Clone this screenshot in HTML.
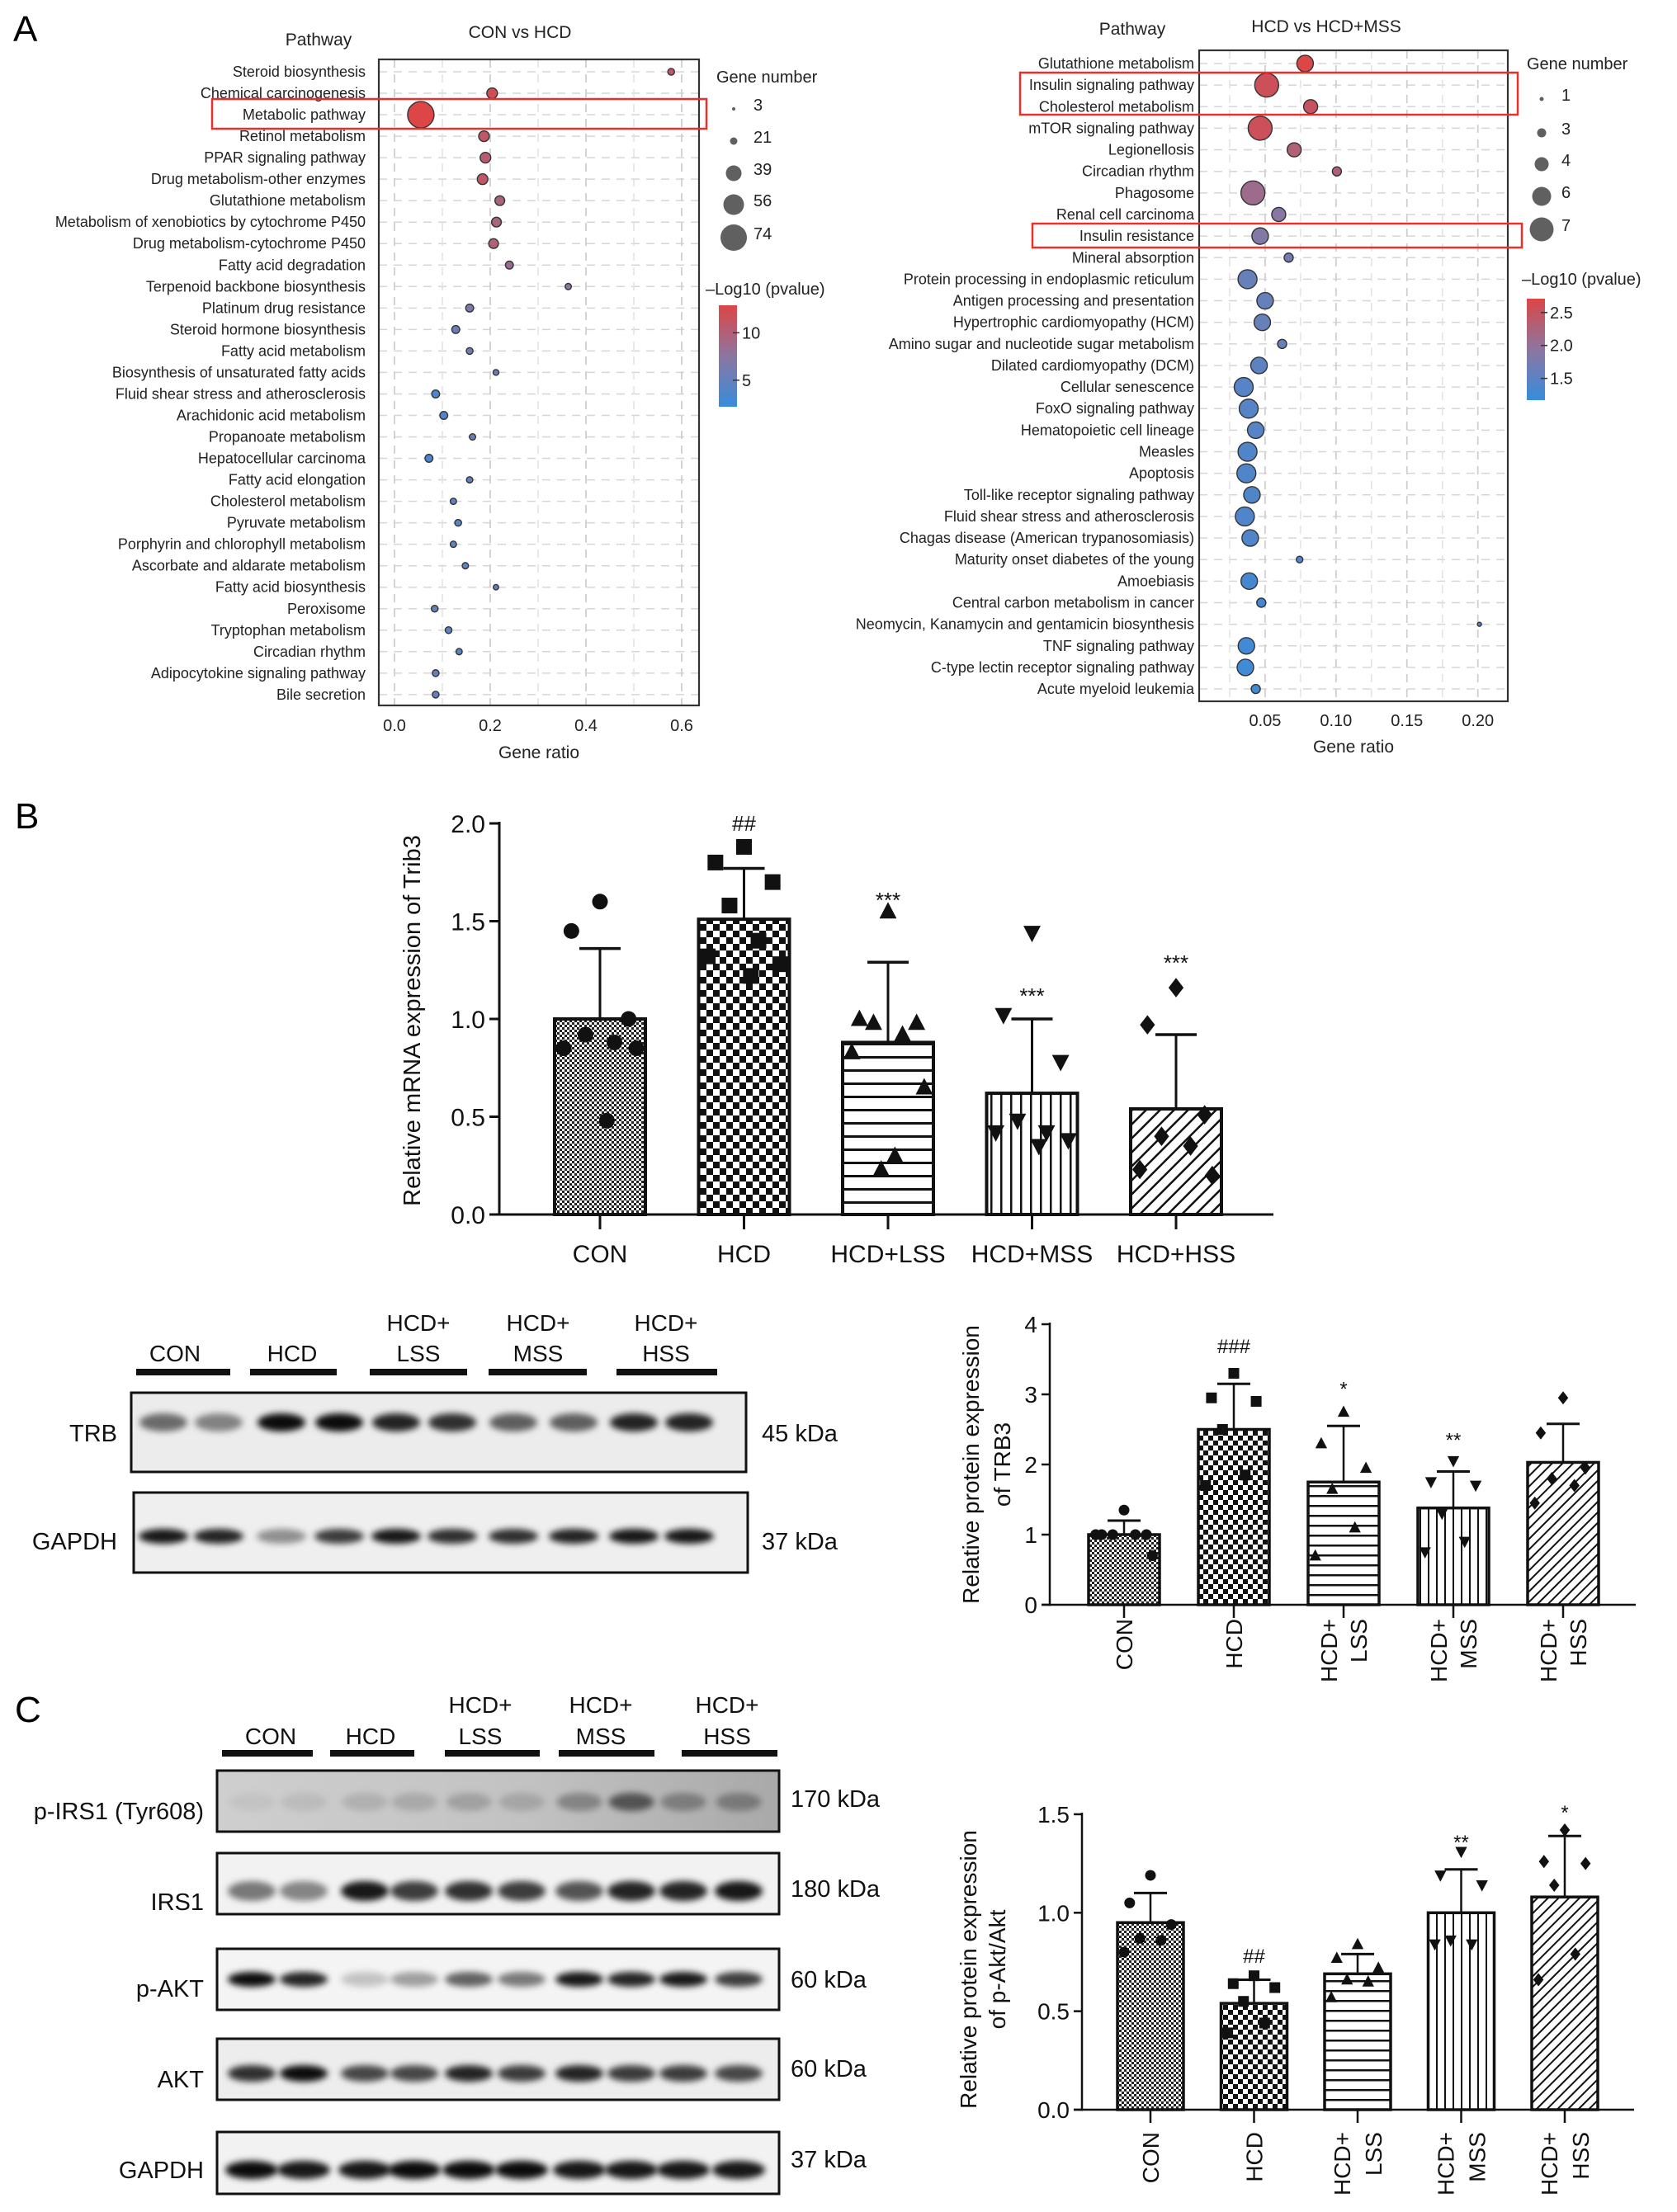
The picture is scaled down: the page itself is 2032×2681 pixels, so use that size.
<!DOCTYPE html>
<html><head><meta charset="utf-8">
<style>
html,body{margin:0;padding:0;background:#fff;}
svg{display:block;font-family:"Liberation Sans",Arial,sans-serif;}
</style></head>
<body>
<svg id="fig" width="2032" height="2681" viewBox="0 0 2032 2681" xmlns="http://www.w3.org/2000/svg">
<defs>
  <linearGradient id="cbar" x1="0" y1="1" x2="0" y2="0">
    <stop offset="0" stop-color="rgb(55,140,220)"/>
    <stop offset="0.5" stop-color="rgb(140,118,160)"/>
    <stop offset="1" stop-color="rgb(220,70,70)"/>
  </linearGradient>
  <linearGradient id="irsbg" x1="0" y1="0" x2="1" y2="0">
    <stop offset="0" stop-color="#cfcfcf"/>
    <stop offset="0.55" stop-color="#c2c2c2"/>
    <stop offset="1" stop-color="#a9a9a9"/>
  </linearGradient>
  <filter id="blur" x="-50%" y="-100%" width="200%" height="300%"><feGaussianBlur stdDeviation="4"/></filter>
  <pattern id="pCON" width="6" height="6" patternUnits="userSpaceOnUse"><rect width="6" height="6" fill="#fff"/><rect width="3" height="3" fill="#222"/><rect x="3" y="3" width="3" height="3" fill="#222"/></pattern>
  <pattern id="pHCDL" width="16" height="16" patternUnits="userSpaceOnUse"><rect width="16" height="16" fill="#fff"/><rect width="8" height="8" fill="#111"/><rect x="8" y="8" width="8" height="8" fill="#111"/></pattern>
  <pattern id="pHCDS" width="12" height="12" patternUnits="userSpaceOnUse"><rect width="12" height="12" fill="#fff"/><rect width="6" height="6" fill="#111"/><rect x="6" y="6" width="6" height="6" fill="#111"/></pattern>
  <pattern id="pLSSL" width="14" height="16" patternUnits="userSpaceOnUse"><rect width="14" height="16" fill="#fff"/><rect y="0" width="14" height="3" fill="#111"/></pattern>
  <pattern id="pLSSS" width="14" height="12" patternUnits="userSpaceOnUse"><rect width="14" height="12" fill="#fff"/><rect y="0" width="14" height="2.5" fill="#111"/></pattern>
  <pattern id="pMSSL" width="12" height="14" patternUnits="userSpaceOnUse"><rect width="12" height="14" fill="#fff"/><rect width="2.5" height="14" fill="#111"/></pattern>
  <pattern id="pMSSS" width="10" height="14" patternUnits="userSpaceOnUse"><rect width="10" height="14" fill="#fff"/><rect width="2" height="14" fill="#111"/></pattern>
  <pattern id="pHSSL" width="12" height="12" patternUnits="userSpaceOnUse" patternTransform="rotate(45)"><rect width="12" height="12" fill="#fff"/><rect width="2.5" height="12" fill="#111"/></pattern>
  <pattern id="pHSSS" width="9" height="9" patternUnits="userSpaceOnUse" patternTransform="rotate(45)"><rect width="9" height="9" fill="#fff"/><rect width="2" height="9" fill="#111"/></pattern>
</defs>
</svg>
<script>
// ---------------- DATA: Panel A left (CON vs HCD) ----------------
const leftPathways = ["Steroid biosynthesis","Chemical carcinogenesis","Metabolic pathway","Retinol metabolism","PPAR signaling pathway","Drug metabolism-other enzymes","Glutathione metabolism","Metabolism of xenobiotics by cytochrome P450","Drug metabolism-cytochrome P450","Fatty acid degradation","Terpenoid backbone biosynthesis","Platinum drug resistance","Steroid hormone biosynthesis","Fatty acid metabolism","Biosynthesis of unsaturated fatty acids","Fluid shear stress and atherosclerosis","Arachidonic acid metabolism","Propanoate metabolism","Hepatocellular carcinoma","Fatty acid elongation","Cholesterol metabolism","Pyruvate metabolism","Porphyrin and chlorophyll metabolism","Ascorbate and aldarate metabolism","Fatty acid biosynthesis","Peroxisome","Tryptophan metabolism","Circadian rhythm","Adipocytokine signaling pathway","Bile secretion"];
const leftRatio = [0.578,0.204,0.055,0.187,0.190,0.184,0.220,0.213,0.207,0.240,0.363,0.157,0.128,0.157,0.212,0.086,0.103,0.163,0.072,0.157,0.123,0.133,0.123,0.148,0.212,0.084,0.113,0.135,0.086,0.086];
const leftCount = [18,28,74,28,28,28,26,26,26,22,16,22,22,18,14,22,22,16,22,16,16,18,16,16,12,18,18,16,18,18];
const leftLogP = [11,12,13,11,10.5,11,9.5,9.5,10,8.5,7.5,6.5,5.5,5.5,5,3.5,4,5.5,3.5,5,4.5,4.5,4.5,4.5,5,5,4.5,4.5,5,5];
const leftSizeBreaks = [3,21,39,56,74];
const leftColorTicks = [10,5];
const leftXTicks = [0,0.2,0.4,0.6];
const leftXTickLabels = ["0.0","0.2","0.4","0.6"];

// ---------------- DATA: Panel A right (HCD vs HCD+MSS) ----------------
const rightPathways = ["Glutathione metabolism","Insulin signaling pathway","Cholesterol metabolism","mTOR signaling pathway","Legionellosis","Circadian rhythm","Phagosome","Renal cell carcinoma","Insulin resistance","Mineral absorption","Protein processing in endoplasmic reticulum","Antigen processing and presentation","Hypertrophic cardiomyopathy (HCM)","Amino sugar and nucleotide sugar metabolism","Dilated cardiomyopathy (DCM)","Cellular senescence","FoxO signaling pathway","Hematopoietic cell lineage","Measles","Apoptosis","Toll-like receptor signaling pathway","Fluid shear stress and atherosclerosis","Chagas disease (American trypanosomiasis)","Maturity onset diabetes of the young","Amoebiasis","Central carbon metabolism in cancer","Neomycin, Kanamycin and gentamicin biosynthesis","TNF signaling pathway","C-type lectin receptor signaling pathway","Acute myeloid leukemia"];
const rightRatio = [0.0782,0.0511,0.0821,0.0465,0.0705,0.1006,0.0414,0.0596,0.0465,0.0666,0.0376,0.0500,0.0480,0.0620,0.0457,0.0349,0.0384,0.0434,0.0376,0.0368,0.0407,0.0357,0.0395,0.0743,0.0388,0.0473,0.2011,0.0368,0.0361,0.0434];
const rightCount = [5,7,4,7,4,3,7,4,5,3,6,5,5,3,5,6,6,5,6,6,5,6,5,2,5,3,1,5,5,3];
const rightLogP = [2.7,2.55,2.5,2.55,2.3,2.3,2.1,1.9,1.85,1.7,1.6,1.6,1.6,1.6,1.5,1.45,1.45,1.45,1.4,1.4,1.4,1.4,1.4,1.4,1.3,1.3,1.3,1.25,1.25,1.25];
const rightSizeBreaks = [1,3,4,6,7];
const rightColorTicks = [2.5,2.0,1.5];
const rightXTicks = [0.05,0.10,0.15,0.20];
const rightXTickLabels = ["0.05","0.10","0.15","0.20"];

// ---------------- DATA: Panel B mRNA ----------------
const groups = ["CON","HCD","HCD+LSS","HCD+MSS","HCD+HSS"];
const mrnaMean = [1.0,1.51,0.88,0.62,0.54];
const mrnaSD = [0.36,0.26,0.41,0.38,0.38];
const mrnaPoints = [[1.6,1.45,1.0,0.92,0.88,0.85,0.85,0.48],[1.88,1.8,1.7,1.58,1.4,1.32,1.28,1.22],[1.55,1.0,0.98,0.98,0.92,0.83,0.65,0.3,0.23],[1.44,1.02,0.78,0.48,0.42,0.42,0.38,0.35],[1.16,0.97,0.51,0.4,0.35,0.23,0.2]];
const mrnaSig = ["","##","***","***","***"];
const mrnaSigAt = [0,2.0,1.63,1.14,1.31];
const mrnaTicks = [0,0.5,1.0,1.5,2.0];
const mrnaTickLabels = ["0.0","0.5","1.0","1.5","2.0"];

// ---------------- DATA: Panel B protein TRB3 ----------------
const trbMean = [1.0,2.5,1.75,1.38,2.03];
const trbSD = [0.2,0.65,0.8,0.52,0.55];
const trbPoints = [[1.35,1.0,1.0,1.0,1.0,1.0,0.7],[3.3,2.95,2.9,2.5,1.85,1.7],[2.75,2.3,1.95,1.65,1.1,0.7],[2.05,1.75,1.7,1.3,0.9,0.75],[2.95,2.45,1.95,1.8,1.7,1.45]];
const trbSig = ["","###","*","**",""];
const trbSigAt = [0,3.69,3.14,2.41,0];
const trbTicks = [0,1,2,3,4];
const trbTickLabels = ["0","1","2","3","4"];

// ---------------- DATA: Panel C p-Akt/Akt ----------------
const aktMean = [0.95,0.54,0.69,1.0,1.08];
const aktSD = [0.15,0.12,0.1,0.22,0.31];
const aktPoints = [[1.19,1.05,0.94,0.87,0.86,0.8],[0.68,0.64,0.62,0.55,0.44,0.39],[0.84,0.77,0.72,0.66,0.65,0.57],[1.31,1.19,1.14,0.86,0.84,0.84],[1.42,1.26,1.25,1.14,0.79,0.66]];
const aktSig = ["","##","","**","*"];
const aktSigAt = [0,0.78,0,1.38,1.53];
const aktTicks = [0,0.5,1.0,1.5];
const aktTickLabels = ["0.0","0.5","1.0","1.5"];

// ---------------- DATA: blots (band intensities per lane) ----------------
const blotTRB = [0.55,0.45,0.95,0.95,0.85,0.8,0.6,0.6,0.85,0.85];
const blotGAPDH_B = [0.9,0.85,0.4,0.75,0.9,0.8,0.8,0.85,0.9,0.9];
const blotPIRS1 = [0.05,0.08,0.12,0.15,0.18,0.15,0.3,0.55,0.3,0.3];
const blotIRS1 = [0.5,0.45,0.9,0.75,0.8,0.75,0.65,0.85,0.85,0.9];
const blotPAKT = [0.95,0.85,0.2,0.35,0.6,0.5,0.9,0.85,0.9,0.75];
const blotAKT = [0.8,0.95,0.7,0.7,0.85,0.75,0.85,0.75,0.75,0.7];
const blotGAPDH_C = [0.95,0.9,0.9,0.95,0.95,0.95,0.9,0.9,0.9,0.9];

// ---------------- helpers ----------------
const NS = 'http://www.w3.org/2000/svg';
const svg = document.getElementById('fig');
function el(tag, attrs, parent){ const e=document.createElementNS(NS,tag); for(const k in attrs) e.setAttribute(k,attrs[k]); (parent||svg).appendChild(e); return e; }
function txt(str, attrs, parent){ const e=el('text',attrs,parent); e.textContent=str; return e; }
function grp(parent){ return el('g',{},parent); }
function lerp(a,b,t){ return a+(b-a)*t; }
function colorFor(t){
  t=Math.max(0,Math.min(1,t));
  const lo=[55,140,220], mid=[140,118,160], hi=[220,70,70];
  let c; if(t<0.5){ const u=t/0.5; c=lo.map((v,i)=>lerp(v,mid[i],u)); } else { const u=(t-0.5)/0.5; c=mid.map((v,i)=>lerp(v,hi[i],u)); }
  return 'rgb('+c.map(Math.round).join(',')+')';
}
function interp(xs, ys, v){
  if(v<=xs[0]) return ys[0]; if(v>=xs[xs.length-1]) return ys[ys.length-1];
  for(let i=1;i<xs.length;i++){ if(v<=xs[i]){ const t=(v-xs[i-1])/(xs[i]-xs[i-1]); return lerp(ys[i-1],ys[i],t);} }
}

// ---------------- panel labels ----------------
let t;
t = txt('A',{x:16,y:50,'font-size':44});


t = txt('B',{x:18,y:1004,'font-size':44});


t = txt('C',{x:18,y:2087,'font-size':44});



// ---------------- dot plot ----------------
function drawDot(c){
  const g = grp();
  
  
  const xs = v => c.x0 + v*c.pxu;
  const ys = i => c.rowY0 + i*c.rowStep;
  for(let i=0;i<c.labels.length;i++){
    const gl = el('line',{x1:c.box[0],x2:c.box[2],y1:ys(i),y2:ys(i),stroke:'#d6d6d6','stroke-width':1.5,'stroke-dasharray':'10,8'},g);
    
    
  }
  c.minor.forEach(v=>{
    const gl = el('line',{x1:xs(v),x2:xs(v),y1:c.box[1],y2:c.box[3],stroke:'#e2e2e2','stroke-width':1.5,'stroke-dasharray':'10,8'},g);
    
    
  });
  c.ticks.forEach((v,k)=>{
    const gl = el('line',{x1:xs(v),x2:xs(v),y1:c.box[1],y2:c.box[3],stroke:'#cfcfcf','stroke-width':1.8,'stroke-dasharray':'10,8'},g);
    
    
    const tl = txt(c.tickLabels[k],{x:xs(v),y:c.tickY,'font-size':20,'text-anchor':'middle',fill:'#222'},g);
    
    
  });
  const bx = el('rect',{x:c.box[0],y:c.box[1],width:c.box[2]-c.box[0],height:c.box[3]-c.box[1],fill:'none',stroke:'#333','stroke-width':2.2},g);
  
  
  for(let i=0;i<c.labels.length;i++){
    const lb = txt(c.labels[i],{x:c.labelRight,y:ys(i)+6,'font-size':18,'text-anchor':'end',fill:'#222'},g);
    
    
    const d = interp(c.sizeBreaks,c.sizeDiams,c.counts[i]);
    const tcol = (c.logp[i]-c.cmin)/(c.cmax-c.cmin);
    const pt = el('circle',{cx:xs(c.ratios[i]),cy:ys(i),r:d/2,fill:colorFor(tcol),stroke:'#333','stroke-width':1.4},g);
    
    
  }
  const ti = txt(c.title,{x:c.titleX,y:c.titleY,'font-size':21,'text-anchor':'middle',fill:'#222'},g);
  
  
  const pw = txt('Pathway',{x:c.pathX,y:c.pathY,'font-size':21,'text-anchor':'middle',fill:'#222'},g);
  
  
  const xt = txt('Gene ratio',{x:(c.box[0]+c.box[2])/2,y:c.xTitleY,'font-size':21,'text-anchor':'middle',fill:'#222'},g);
  
  
  const lg = txt('Gene number',{x:c.legX,y:c.legTitleY,'font-size':20,fill:'#222'},g);
  
  
  c.sizeBreaks.forEach((v,k)=>{
    const cy = c.legYs[k];
    const lc = el('circle',{cx:c.legCX,cy:cy,r:c.sizeDiams[k]/2,fill:'#606060'},g);
    
    
    const lt = txt(String(v),{x:c.legCX+24,y:cy+2,'font-size':20,fill:'#222'},g);
    
    
  });
  const ct = txt('\u2013Log10 (pvalue)',{x:c.cbTitleX,y:c.cbTitleY,'font-size':20,fill:'#222'},g);
  
  
  const cb = el('rect',{x:c.cb[0],y:c.cb[1],width:c.cb[2]-c.cb[0],height:c.cb[3]-c.cb[1],fill:'url(#cbar)'},g);
  
  
  c.cTicks.forEach(v=>{
    const y = c.cb[3] - (v-c.cmin)/(c.cmax-c.cmin)*(c.cb[3]-c.cb[1]);
    const tk = el('line',{x1:c.cb[2]-5,x2:c.cb[2]+3,y1:y,y2:y,stroke:'#333','stroke-width':1.5},g);
    
    
    const tl = txt(v%1===0 && v>=5 ? String(v) : v.toFixed(1),{x:c.cb[2]+6,y:y+7,'font-size':20,fill:'#222'},g);
    
    
  });
  c.hl.forEach(h=>{
    const r = el('rect',{x:h[0],y:h[1],width:h[2]-h[0],height:h[3]-h[1],fill:'none',stroke:'#e8302c','stroke-width':2.5},g);
    
    
  });
}

drawDot({name:'dotplot-con-vs-hcd',labels:leftPathways,ratios:leftRatio,counts:leftCount,logp:leftLogP,
  x0:478,pxu:580,rowY0:87,rowStep:26.03,box:[459,72,847,855],labelRight:443,
  ticks:leftXTicks,tickLabels:leftXTickLabels,minor:[0.1,0.3,0.5],tickY:886,xTitleY:919,
  sizeBreaks:leftSizeBreaks,sizeDiams:[4,9,19,25,32],cmin:2.2,cmax:12.9,cTicks:leftColorTicks,
  title:'CON vs HCD',titleX:630,titleY:46,pathX:386,pathY:55,
  legX:868,legTitleY:100,legCX:889,legYs:[132,171,210,248,288],
  cbTitleX:855,cbTitleY:357,cb:[871,370,893,493],hl:[[257,120,856,156]]});

drawDot({name:'dotplot-hcd-vs-hcd-mss',labels:rightPathways,ratios:rightRatio,counts:rightCount,logp:rightLogP,
  x0:1447,pxu:1718.5,rowY0:77,rowStep:26.14,box:[1453,61,1827,850],labelRight:1447,
  ticks:rightXTicks,tickLabels:rightXTickLabels,minor:[0.025,0.075,0.125,0.175],tickY:880,xTitleY:912,
  sizeBreaks:rightSizeBreaks,sizeDiams:[5,11,17,23,29],cmin:1.17,cmax:2.71,cTicks:rightColorTicks,
  title:'HCD vs HCD+MSS',titleX:1607,titleY:39,pathX:1372,pathY:42,
  legX:1850,legTitleY:84,legCX:1868,legYs:[120,161,199,238,278],
  cbTitleX:1844,cbTitleY:345,cb:[1850,362,1872,485],hl:[[1236,88,1839,139],[1251,271,1844,300]]});

// ---------------- bar charts ----------------
const patterns = ['pCON','pHCD','pLSS','pMSS','pHSS'];
const jitter = [0,-0.75,0.75,-0.38,0.38,-0.95,0.95,0.18,-0.18];
function marker(shape, x, y, s, parent){
  let m;
  if(shape===0) m = el('circle',{cx:x,cy:y,r:s/2,fill:'#111'},parent);
  else if(shape===1) m = el('rect',{x:x-s/2,y:y-s/2,width:s,height:s,fill:'#111'},parent);
  else if(shape===2) m = el('polygon',{points:`${x},${y-s*0.6} ${x-s*0.55},${y+s*0.45} ${x+s*0.55},${y+s*0.45}`,fill:'#111'},parent);
  else if(shape===3) m = el('polygon',{points:`${x},${y+s*0.6} ${x-s*0.55},${y-s*0.45} ${x+s*0.55},${y-s*0.45}`,fill:'#111'},parent);
  else m = el('polygon',{points:`${x},${y-s*0.62} ${x+s*0.48},${y} ${x},${y+s*0.62} ${x-s*0.48},${y}`,fill:'#111'},parent);
  return m;
}
function drawBar(c){
  const g = grp();
  
  
  const yv = v => c.zeroY - v*c.pxu;
  const cx = i => c.firstC + i*c.step;
  c.means.forEach((m,i)=>{
    const pat = patterns[i]==='pCON' ? 'pCON' : patterns[i]+c.ps;
    const b = el('rect',{x:cx(i)-c.barW/2,y:yv(m),width:c.barW,height:yv(0)-yv(m),fill:`url(#${pat})`,stroke:'#111','stroke-width':c.bw},g);
    
    
  });
  c.means.forEach((m,i)=>{
    const top = yv(m+c.sds[i]);
    const e1 = el('line',{x1:cx(i),x2:cx(i),y1:yv(m),y2:top,stroke:'#111','stroke-width':c.lw},g);
    
    
    const e2 = el('line',{x1:cx(i)-c.capW/2,x2:cx(i)+c.capW/2,y1:top,y2:top,stroke:'#111','stroke-width':c.lw+0.5},g);
    
    
  });
  c.points.forEach((arr,i)=>{
    arr.forEach((v,k)=>{
      const mk = marker(i, cx(i)+jitter[k%jitter.length]*c.barW*0.42, yv(v), c.ms, g);
      
      
    });
  });
  c.sig.forEach((s,i)=>{
    if(!s) return;
    const isStar = s[0]==='*';
    const st = txt(s,{x:cx(i),y:yv(c.sigAt[i])+(isStar?c.sigFs*0.55:c.sigFs*0.35),'font-size':c.sigFs,'text-anchor':'middle',fill:'#111'},g);
    
    
  });
  const ya = el('line',{x1:c.axisX,x2:c.axisX,y1:yv(c.ticks[c.ticks.length-1])-2,y2:yv(0)+1.5,stroke:'#111','stroke-width':c.lw},g);
  
  
  const xa = el('line',{x1:c.axisX-c.tl,x2:c.axisEnd,y1:yv(0),y2:yv(0),stroke:'#111','stroke-width':c.lw},g);
  
  
  c.ticks.forEach((v,k)=>{
    const tk = el('line',{x1:c.axisX-c.tl,x2:c.axisX,y1:yv(v),y2:yv(v),stroke:'#111','stroke-width':c.lw},g);
    
    
    const tl = txt(c.tickLabels[k],{x:c.axisX-c.tl-5,y:yv(v)+c.fs*0.36,'font-size':c.fs,'text-anchor':'end',fill:'#111'},g);
    
    
  });
  c.means.forEach((m,i)=>{
    const tk = el('line',{x1:cx(i),x2:cx(i),y1:yv(0),y2:yv(0)+c.tl+6,stroke:'#111','stroke-width':c.lw},g);
    
    
  });
  c.catLines.forEach((lines,i)=>{
    lines.forEach((ln,j)=>{
      let lt;
      if(c.rotated){
        const x = cx(i) + (j-(lines.length-1)/2)*c.lineGap + c.fs*0.36;
        lt = txt(ln,{x:x,y:c.labelY,'font-size':c.fs,'text-anchor':'end',fill:'#111',transform:`rotate(-90 ${x} ${c.labelY})`},g);
      } else {
        lt = txt(ln,{x:cx(i),y:c.labelY,'font-size':c.fs,'text-anchor':'middle',fill:'#111'},g);
      }
      
      
    });
  });
  c.titleLines.forEach((ln,j)=>{
    const x = c.titleXs[j] + c.fs*0.36;
    const tt = txt(ln,{x:x,y:c.titleY,'font-size':c.tfs,'text-anchor':'middle',fill:'#111',transform:`rotate(-90 ${x} ${c.titleY})`},g);
    
    
  });
}

drawBar({name:'chart-trib3-mrna',means:mrnaMean,sds:mrnaSD,points:mrnaPoints,sig:mrnaSig,sigAt:mrnaSigAt,ticks:mrnaTicks,tickLabels:mrnaTickLabels,
  axisX:605,zeroY:1472,pxu:237,firstC:727,step:174.5,barW:110,axisEnd:1543,capW:50,ms:19,ps:'L',bw:4,lw:3,tl:12,fs:30,tfs:29,sigFs:26,
  catLines:[['CON'],['HCD'],['HCD+LSS'],['HCD+MSS'],['HCD+HSS']],rotated:false,labelY:1530,lineGap:0,
  titleLines:['Relative mRNA expression of Trib3'],titleXs:[498],titleY:1237});

drawBar({name:'chart-trb3-protein',means:trbMean,sds:trbSD,points:trbPoints,sig:trbSig,sigAt:trbSigAt,ticks:trbTicks,tickLabels:trbTickLabels,
  axisX:1272,zeroY:1945,pxu:85,firstC:1362,step:133,barW:86,axisEnd:1982,capW:40,ms:13,ps:'S',bw:3.5,lw:2.5,tl:10,fs:28,tfs:28,sigFs:24,
  catLines:[['CON'],['HCD'],['HCD+','LSS'],['HCD+','MSS'],['HCD+','HSS']],rotated:true,labelY:1962,lineGap:36,
  titleLines:['Relative protein expression','of TRB3'],titleXs:[1176,1214],titleY:1775});

drawBar({name:'chart-pakt-akt',means:aktMean,sds:aktSD,points:aktPoints,sig:aktSig,sigAt:aktSigAt,ticks:aktTicks,tickLabels:aktTickLabels,
  axisX:1311,zeroY:2557,pxu:238.7,firstC:1394,step:125.5,barW:80,axisEnd:1980,capW:40,ms:13,ps:'S',bw:3.5,lw:2.5,tl:10,fs:28,tfs:28,sigFs:24,
  catLines:[['CON'],['HCD'],['HCD+','LSS'],['HCD+','MSS'],['HCD+','HSS']],rotated:true,labelY:2584,lineGap:38,
  titleLines:['Relative protein expression','of p-Akt/Akt'],titleXs:[1173,1208],titleY:2387});

// ---------------- western blots ----------------
function drawGroupHeader(name, centers, bars, barY, line1Y, line2Y, fs){
  const g = grp();
  
  
  const l1 = ['','','HCD+','HCD+','HCD+'];
  const l2 = ['CON','HCD','LSS','MSS','HSS'];
  centers.forEach((cx,i)=>{
    if(l1[i]){
      const a = txt(l1[i],{x:cx,y:line1Y,'font-size':fs,'text-anchor':'middle',fill:'#111'},g);
      
      
    }
    const b = txt(l2[i],{x:cx,y:line2Y,'font-size':fs,'text-anchor':'middle',fill:'#111'},g);
    
    
    const r = el('rect',{x:bars[i][0],y:barY,width:bars[i][1]-bars[i][0],height:8,fill:'#111'},g);
    
    
  });
}
function drawBlot(name, box, bg, lanes, bandY, inten, bw, bh, label, labelRight, kda, kdaX, kdaY, labelY, fs){
  const g = grp();
  
  
  const r = el('rect',{x:box[0],y:box[1],width:box[2]-box[0],height:box[3]-box[1],fill:bg},g);
  
  
  lanes.forEach((x,i)=>{
    const b = el('ellipse',{cx:x,cy:bandY,rx:bw/2,ry:bh/2,fill:'#000','fill-opacity':inten[i],filter:'url(#blur)'},g);
    
    
  });
  const fr = el('rect',{x:box[0],y:box[1],width:box[2]-box[0],height:box[3]-box[1],fill:'none',stroke:'#111','stroke-width':3},g);
  
  
  const lt = txt(label,{x:labelRight,y:labelY,'font-size':fs,'text-anchor':'end',fill:'#111'},g);
  
  
  const kt = txt(kda,{x:kdaX,y:kdaY,'font-size':fs,fill:'#111'},g);
  
  
}
const lanesB = [198,265,341,411,480,548,622,695,768,835];
const lanesC = [305,368,442,502,568,632,702,765,828,895];
drawGroupHeader('blot-b-groups',[212,354,507,652,807],[[165,279],[303,408],[448,566],[592,711],[747,869]],1659,1613,1650,28);
drawBlot('blot-trb',[159,1688,904,1784],'#ececec',lanesB,1724,blotTRB,58,22,'TRB',142,'45 kDa',923,1747,1747,29);
drawBlot('blot-gapdh-b',[162,1809,906,1906],'#efefef',lanesB,1862,blotGAPDH_B,60,18,'GAPDH',142,'37 kDa',923,1878,1878,29);

drawGroupHeader('blot-c-groups',[328,449,582,728,881],[[269,379],[400,502],[539,654],[677,793],[826,942]],2121,2076,2114,28);
drawBlot('blot-p-irs1',[263,2146,944,2220],'url(#irsbg)',lanesC,2184,blotPIRS1,55,22,'p-IRS1 (Tyr608)',247,'170 kDa',958,2190,2205,29);
drawBlot('blot-irs1',[263,2246,944,2320],'#f2f2f2',lanesC,2292,blotIRS1,58,24,'IRS1',247,'180 kDa',958,2299,2315,29);
drawBlot('blot-p-akt',[263,2362,944,2436],'#f4f4f4',lanesC,2399,blotPAKT,58,18,'p-AKT',247,'60 kDa',958,2409,2420,29);
drawBlot('blot-akt',[263,2471,944,2545],'#ededed',lanesC,2513,blotAKT,58,20,'AKT',247,'60 kDa',958,2517,2530,29);
drawBlot('blot-gapdh-c',[263,2584,944,2659],'#f2f2f2',lanesC,2630,blotGAPDH_C,64,22,'GAPDH',247,'37 kDa',958,2627,2640,29);
</script>
</body></html>
